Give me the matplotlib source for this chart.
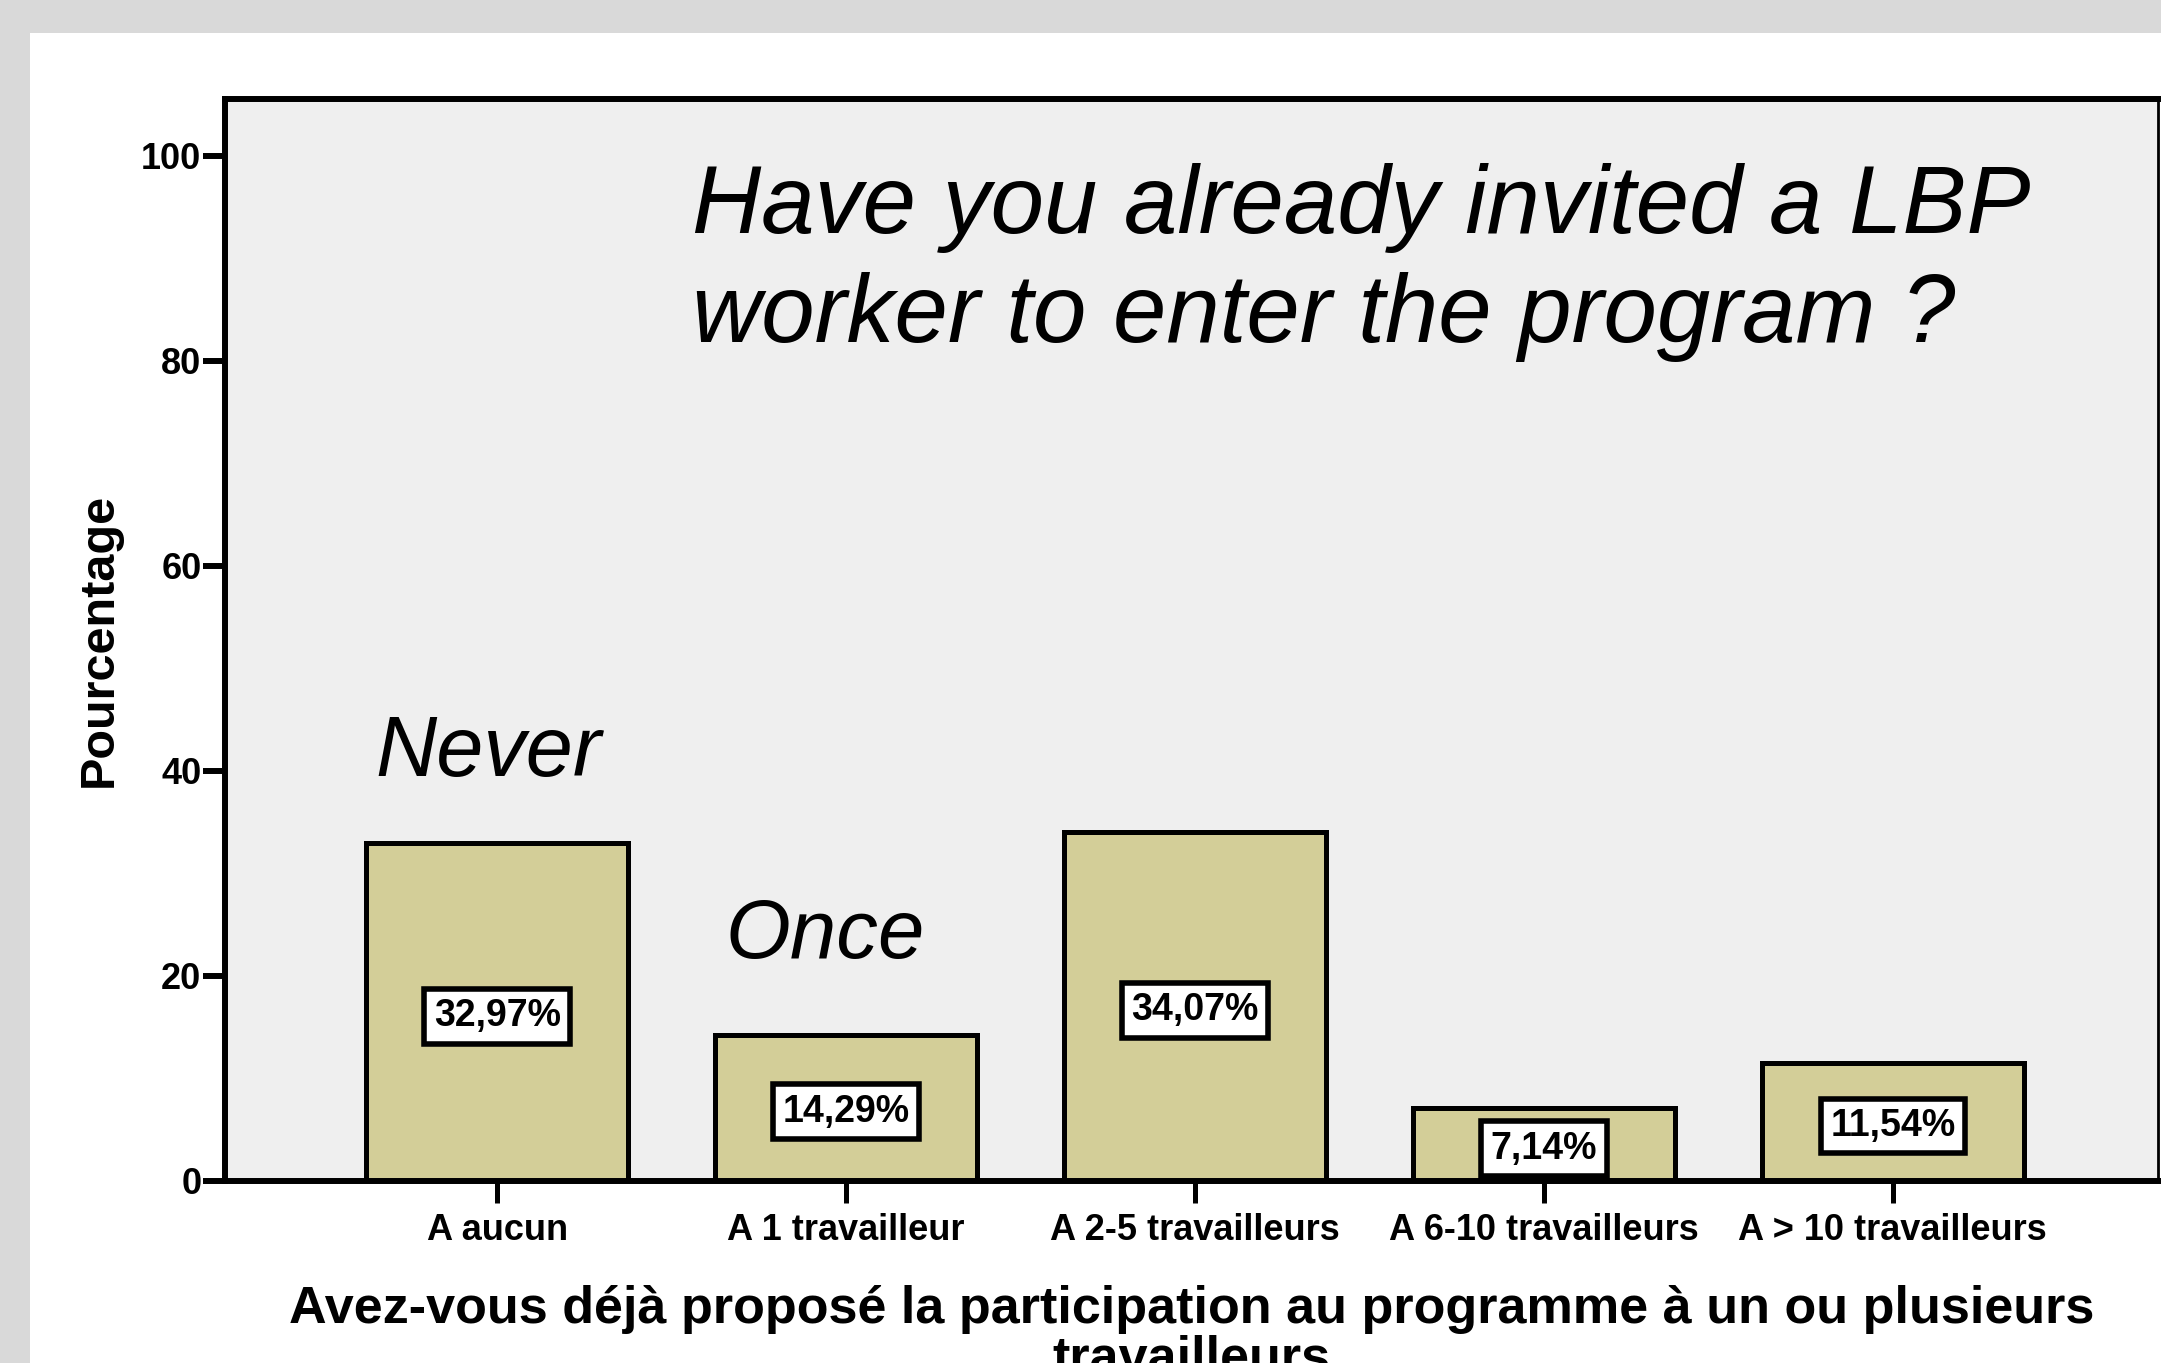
import numpy as np
import matplotlib.pyplot as plt
from matplotlib.patches import Rectangle

plt.rcParams['font.family'] = ['Liberation Sans', 'DejaVu Sans']

categories = ['A aucun', 'A 1 travailleur', 'A 2-5 travailleurs',
              'A 6-10 travailleurs', 'A > 10 travailleurs']
percents = [32.97, 14.29, 34.07, 7.14, 11.54]
labels = ['32,97%', '14,29%', '34,07%', '7,14%', '11,54%']

W, H = 2161, 1363
fig = plt.figure(figsize=(W / 100, H / 100), dpi=100, facecolor='#d9d9d9')

# white slide panel behind the chart
fig.patches.append(Rectangle((30 / W, 0), 1, 1 - 33 / H, transform=fig.transFigure,
                             facecolor='white', edgecolor='none', zorder=-5))

ax = fig.add_axes([225 / W, 182 / H, (2158 - 225) / W, (1181 - 99) / H])
ax.set_zorder(2)
ax.set_facecolor('#efefef')

x = np.arange(len(categories))
ax.bar(x, percents, width=0.75, color='#d3ce98', edgecolor='black', linewidth=3.6, zorder=2)

for xi, v, lab in zip(x, percents, labels):
    ax.text(xi, v / 2 - 0.4, lab, ha='center', va='center', fontsize=27, fontweight='bold',
            bbox=dict(boxstyle='square,pad=0.25', facecolor='white', edgecolor='black', linewidth=4),
            zorder=3)

ax.set_xlim(-0.78, 4.76)
ax.set_ylim(0, 105.56)
ax.set_yticks([0, 20, 40, 60, 80, 100])
ax.set_xticks(x)
ax.set_xticklabels(categories)

for s in ax.spines.values():
    s.set_linewidth(4.3)
ax.spines['right'].set_linewidth(2)

ax.tick_params(axis='y', length=16, width=4.3, labelsize=26, pad=1)
ax.tick_params(axis='x', length=16, width=3.6, labelsize=26, pad=7)
for t in ax.get_xticklabels() + ax.get_yticklabels():
    t.set_fontweight('bold')

ax.set_ylabel('Pourcentage', fontsize=35, fontweight='bold', labelpad=14)
ax.set_xlabel('Avez-vous déjà proposé la participation au programme à un ou plusieurs\ntravailleurs',
              fontsize=37.5, fontweight='bold', labelpad=27, linespacing=1.0)

ax.text(0.558, 81.9, 'Have you already invited a LBP\nworker to enter the program ?',
        fontsize=69, style='italic', ha='left', va='baseline', linespacing=1.27)
ax.text(-0.35, 39.5, 'Never', fontsize=61, style='italic', ha='left', va='baseline')
ax.text(0.655, 21.8, 'Once', fontsize=60, style='italic', ha='left', va='baseline')

fig.savefig('out.png', dpi=100, facecolor=fig.get_facecolor())
